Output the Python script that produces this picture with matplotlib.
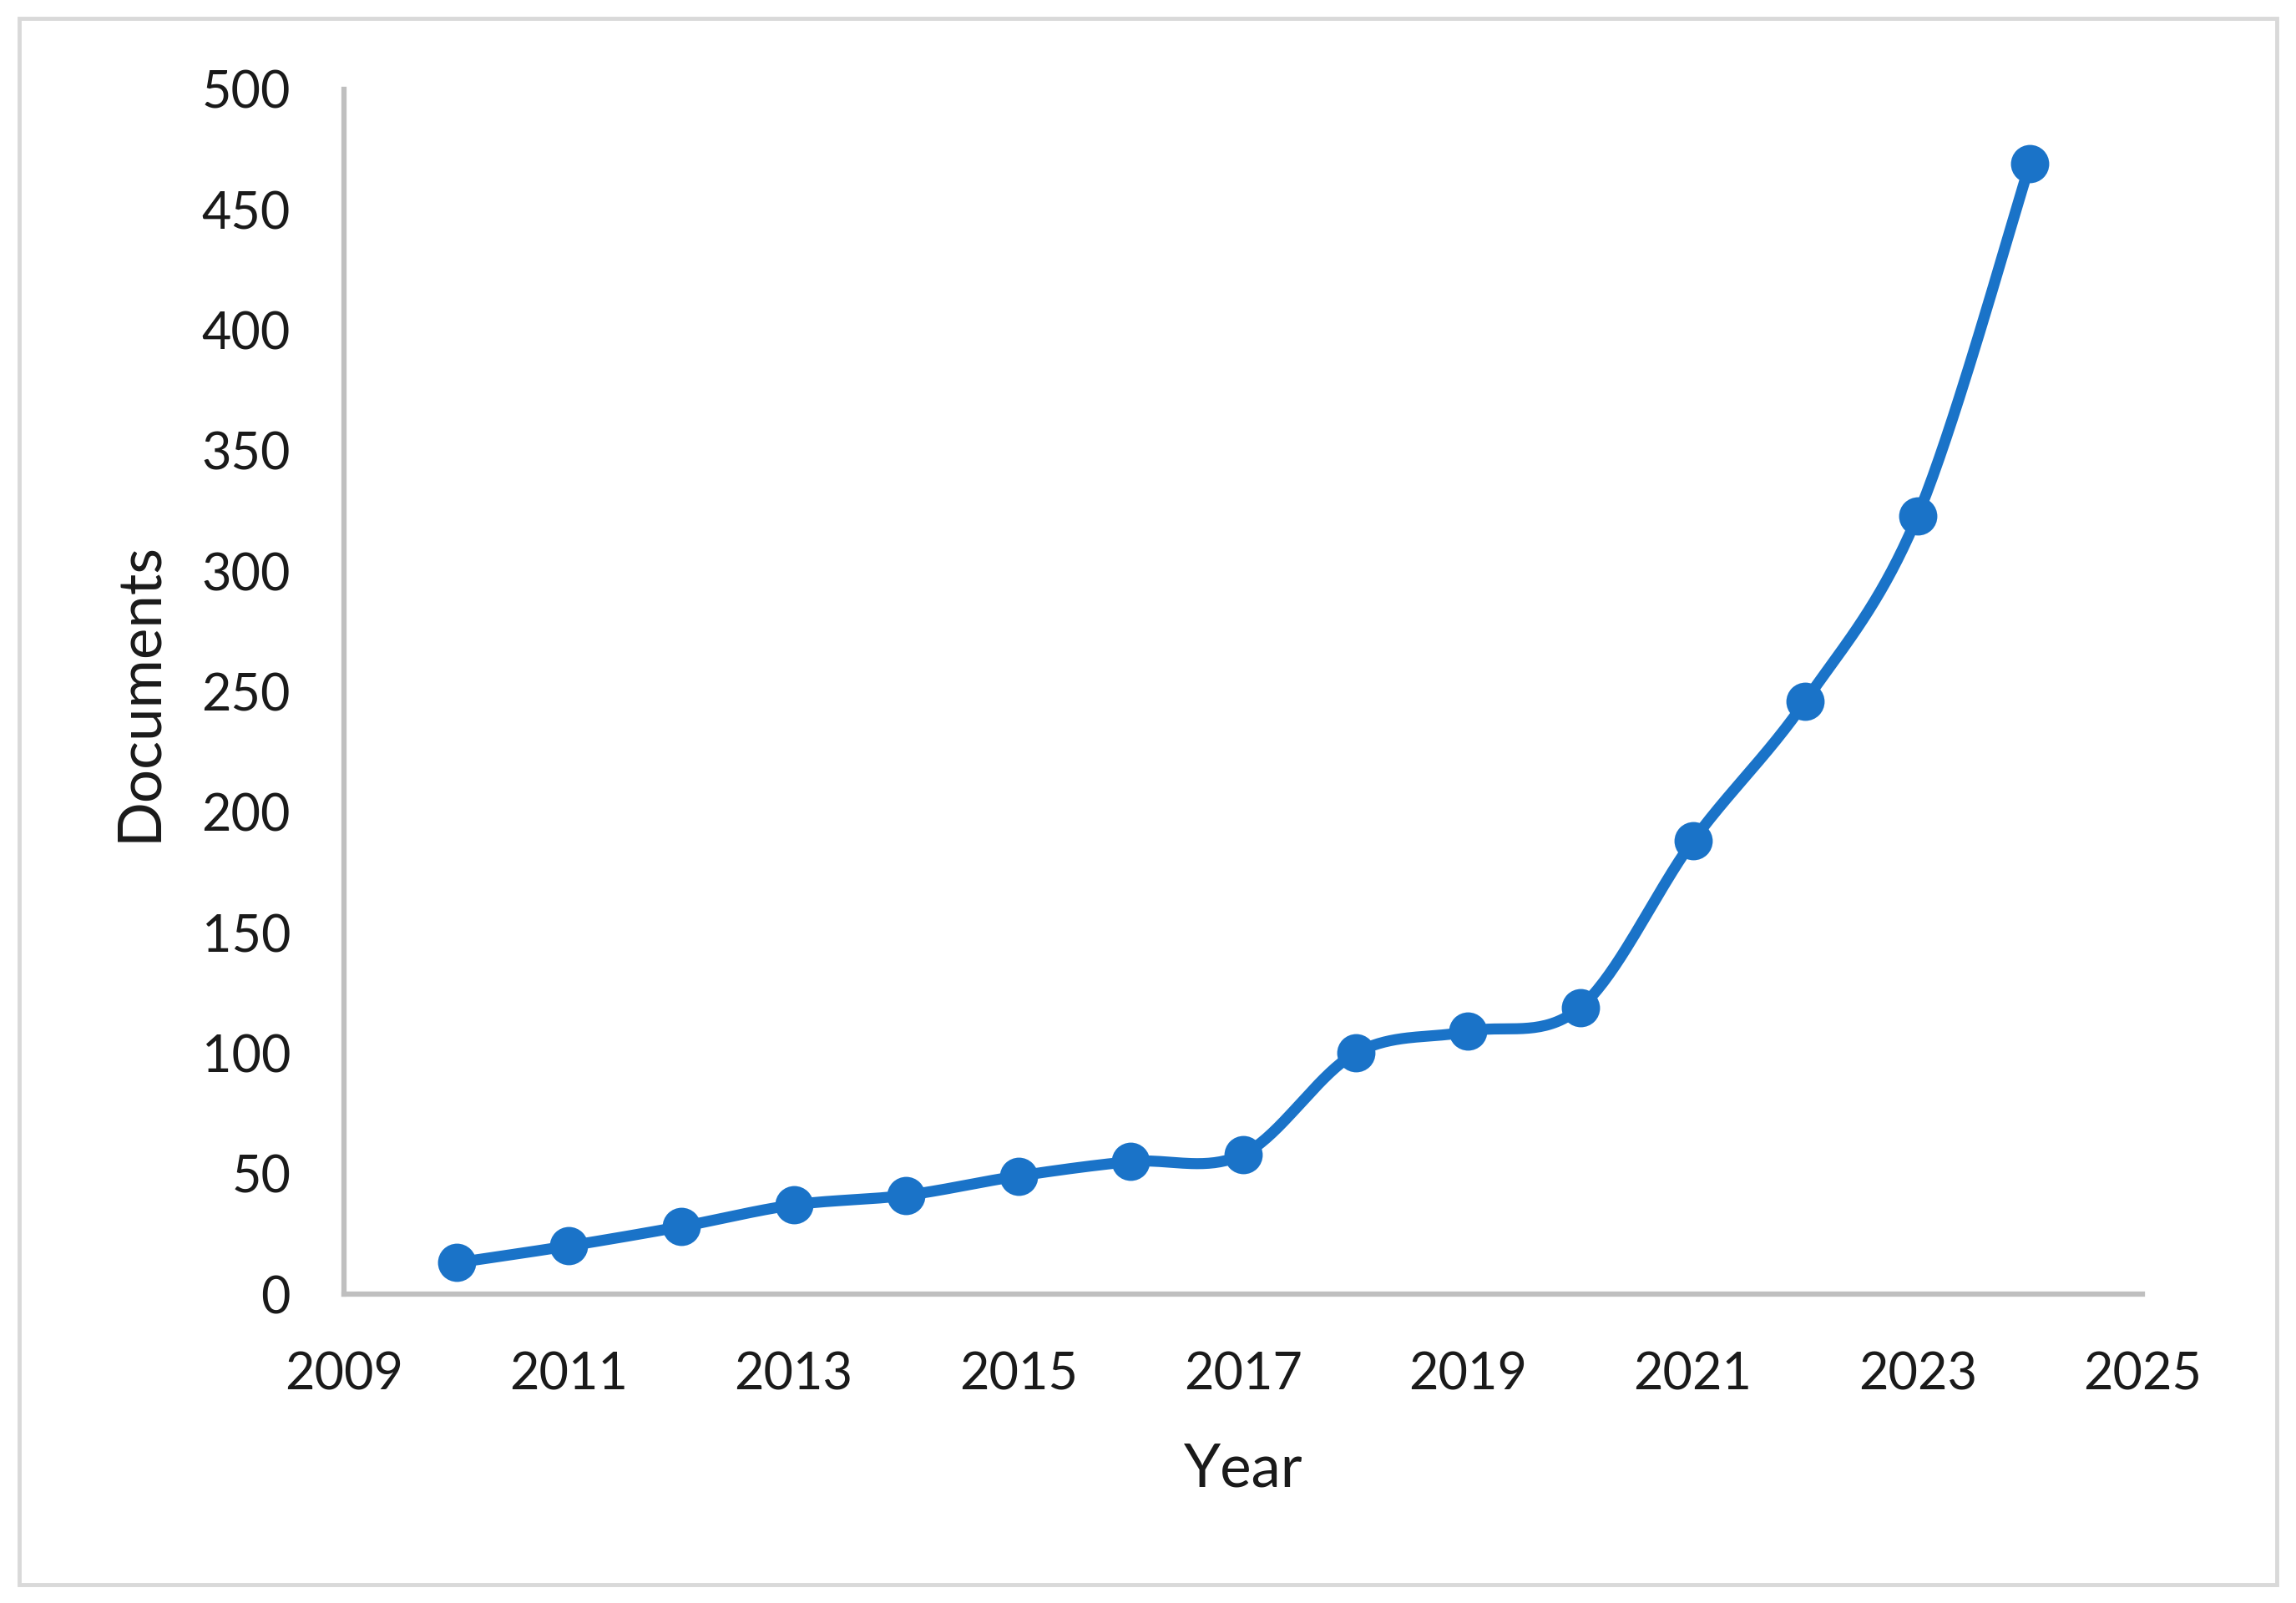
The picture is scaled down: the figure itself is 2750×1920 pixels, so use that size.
import numpy as np
import matplotlib
matplotlib.use("Agg")
import matplotlib.pyplot as plt
from matplotlib.patches import Rectangle

years = [2010, 2011, 2012, 2013, 2014, 2015, 2016, 2017, 2018, 2019, 2020, 2021, 2022, 2023, 2024]
documents = [13, 20, 28, 37, 41, 49, 55, 58, 100, 109, 119, 188, 246, 323, 469]
x_ticks = [2009, 2011, 2013, 2015, 2017, 2019, 2021, 2023, 2025]
y_ticks = [0, 50, 100, 150, 200, 250, 300, 350, 400, 450, 500]

plt.rcParams['font.family'] = ['Lato', 'DejaVu Sans']

color = '#1a73c8'


def catmull_rom(x, y, n=40, tension=0.5):
    x = np.asarray(x, float)
    y = np.asarray(y, float)
    sx = 1.0 / (x.max() - x.min())
    sy = 1.0 / (y.max() - y.min()) * 0.67
    px = np.concatenate([[x[0]], x, [x[-1]]]) * sx
    py = np.concatenate([[y[0]], y, [y[-1]]]) * sy
    ox, oy = [], []
    for i in range(1, len(px) - 2):
        p0 = np.array([px[i - 1], py[i - 1]])
        p1 = np.array([px[i], py[i]])
        p2 = np.array([px[i + 1], py[i + 1]])
        p3 = np.array([px[i + 2], py[i + 2]])
        c1 = p1 + (p2 - p0) * tension / 3
        c2 = p2 - (p3 - p1) * tension / 3
        t = np.linspace(0, 1, n)[:, None]
        pts = ((1 - t) ** 3) * p1 + 3 * ((1 - t) ** 2) * t * c1 + 3 * (1 - t) * t ** 2 * c2 + t ** 3 * p2
        ox.extend(pts[:, 0])
        oy.extend(pts[:, 1])
    return np.array(ox) / sx, np.array(oy) / sy


fig = plt.figure(figsize=(27.5, 19.2), dpi=100)
ax = fig.add_axes([412 / 2750, 1 - 1550 / 1920, (2566 - 412) / 2750, (1550 - 107) / 1920])

sx, sy = catmull_rom(years, documents)
ax.plot(sx, sy, color=color, lw=9.5, solid_capstyle='round', zorder=2)
ax.plot(years, documents, 'o', color=color, markersize=33, markeredgewidth=0, zorder=3)

ax.set_xlim(2009, 2025)
ax.set_ylim(0, 500)
ax.set_xticks(x_ticks)
ax.set_yticks(y_ticks)
ax.tick_params(axis='both', length=0, labelsize=44, colors='#1a1a1a')
ax.tick_params(axis='y', pad=46)
ax.tick_params(axis='x', pad=49)

for s in ['top', 'right']:
    ax.spines[s].set_visible(False)
for s in ['left', 'bottom']:
    ax.spines[s].set_color('#bfbfbf')
    ax.spines[s].set_linewidth(4.5)

ax.set_xlabel('Year', fontsize=51, color='#1a1a1a')
ax.set_ylabel('Documents', fontsize=51, color='#1a1a1a')
ax.xaxis.set_label_coords(0.5, -0.123)
ax.yaxis.set_label_coords(-0.099, 0.5)

fig.patches.append(Rectangle((23 / 2750, 22 / 1920), (2727 - 23) / 2750, (1898 - 22) / 1920,
                             transform=fig.transFigure, fill=False, edgecolor='#d9d9d9',
                             linewidth=3.5, zorder=0))

fig.savefig('out.png', dpi=100, facecolor='white')
